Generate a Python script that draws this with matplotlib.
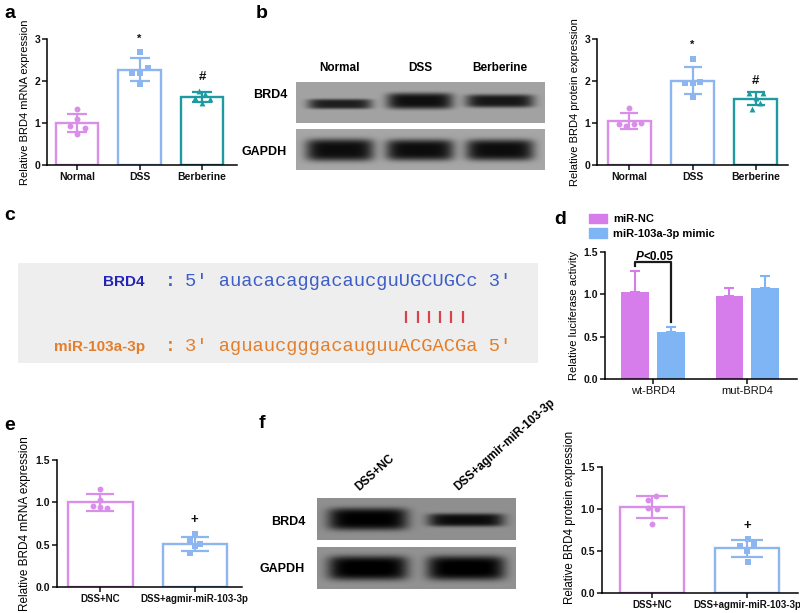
"""Multi-panel BRD4 / miR-103a-3p figure (a-f) redrawn with matplotlib."""

import numpy as np
import matplotlib

matplotlib.use("Agg")
import matplotlib.pyplot as plt
from matplotlib.patches import Patch

plt.rcParams["font.family"] = ["Liberation Sans", "DejaVu Sans"]

W, H = 800, 613

PURPLE = "#d98ee9"
BLUE = "#8db6f0"
TEAL = "#1f9aa0"
D_NC = "#d77ceb"
D_MIMIC = "#80b5f5"

# ---- panel a: BRD4 mRNA
a_groups = ["Normal", "DSS", "Berberine"]
a_mean = [1.00, 2.27, 1.62]
a_sd = [0.22, 0.28, 0.12]
a_points = [
    [1.33, 1.10, 0.93, 0.87, 0.74],
    [2.70, 2.18, 2.18, 2.32, 1.92],
    [1.76, 1.69, 1.60, 1.56, 1.48],
]
a_marks = ["", "*", "#"]
a_mark_y = [0, 3.0, 2.09]

# ---- panel b: BRD4 protein
b_groups = ["Normal", "DSS", "Berberine"]
b_mean = [1.04, 2.01, 1.58]
b_sd = [0.19, 0.32, 0.15]
b_points = [
    [1.35, 0.97, 0.93, 0.97, 0.99],
    [2.52, 1.95, 1.96, 1.98, 1.61],
    [1.72, 1.72, 1.59, 1.47, 1.33],
]
b_marks = ["", "*", "#"]
b_mark_y = [0, 2.86, 2.0]
# relative band signal (0-1) per lane
b_brd4_signal = [0.52, 0.58, 0.55]
b_brd4_thick = [5.0, 8.0, 6.5]
b_gapdh_signal = [0.60, 0.60, 0.60]
b_gapdh_thick = [11.0, 10.5, 10.5]

# ---- panel c: seed pairing
c_names = ["BRD4", "miR-103a-3p"]
c_seqs = ["5' auacacaggacaucguUGCUGCc 3'", "3' aguaucgggacauguuACGACGa 5'"]
c_pair_start, c_pair_len = 19, 6

# ---- panel d: luciferase
d_groups = ["wt-BRD4", "mut-BRD4"]
d_series = ["miR-NC", "miR-103a-3p mimic"]
d_mean = [[1.03, 0.98], [0.55, 1.07]]
d_sd = [[0.24, 0.09], [0.06, 0.15]]

# ---- panel e: BRD4 mRNA after antagomir
e_groups = ["DSS+NC", "DSS+agmir-miR-103-3p"]
e_mean = [1.00, 0.51]
e_sd = [0.10, 0.085]
e_points = [[1.16, 1.03, 0.955, 0.94, 0.935], [0.63, 0.56, 0.51, 0.48, 0.40]]
e_marks = ["", "+"]
e_mark_y = [0, 0.79]

# ---- panel f: BRD4 protein after antagomir
f_groups = ["DSS+NC", "DSS+agmir-miR-103-3p"]
f_mean = [1.02, 0.53]
f_sd = [0.13, 0.10]
f_points = [[1.11, 1.15, 1.01, 1.00, 0.82], [0.64, 0.56, 0.58, 0.505, 0.375]]
f_marks = ["", "+"]
f_mark_y = [0, 0.80]
f_brd4_signal = [0.56, 0.52]
f_brd4_thick = [11.0, 6.5]
f_gapdh_signal = [0.58, 0.58]
f_gapdh_thick = [12.0, 12.0]


def box(x0, y0, x1, y1):
    return [x0 / W, 1 - y1 / H, (x1 - x0) / W, (y1 - y0) / H]


def ftext(fig, x, y, s, **kw):
    fig.text(x / W, 1 - y / H, s, **kw)


def style_axes(ax, ylabel, yticks, fmt, tick_bold=True, xsize=7.5, ysize=8):
    ax.spines[["top", "right"]].set_visible(False)
    ax.spines[["left", "bottom"]].set_linewidth(1.1)
    ax.tick_params(width=1.1, length=3.5, labelsize=7.5, pad=1.5, colors="#111111")
    ax.set_yticks(yticks)
    ax.set_yticklabels([fmt.format(t) for t in yticks], fontweight="bold")
    for lab in ax.get_xticklabels():
        lab.set_fontweight("bold" if tick_bold else "normal")
        lab.set_fontsize(xsize)
    ax.set_ylabel(ylabel, fontsize=ysize, labelpad=3)


def dot_bar(ax, groups, mean, sd, points, jitter, colors, markers, capsize,
            marks, mark_y, width=0.68):
    for i in range(len(mean)):
        ax.bar(i, mean[i], width=width, facecolor="none", edgecolor=colors[i],
               linewidth=1.7, zorder=2)
        ax.scatter(i + np.array(jitter[i]), points[i], marker=markers[i], s=18,
                   color=colors[i], zorder=3, linewidths=0)
        ax.errorbar(i, mean[i], yerr=sd[i], fmt="none", ecolor=colors[i],
                    capsize=capsize, elinewidth=1.6, capthick=1.6, zorder=4)
        if marks[i]:
            ax.text(i, mark_y[i], marks[i], ha="center", va="center",
                    fontsize=9.5 if marks[i] != "*" else 8, fontweight="bold",
                    color="#111111", clip_on=False)
    ax.set_xticks(range(len(groups)))
    ax.set_xticklabels(groups)


def blot(ax, lanes, halfw, yc, signal, thick, bg, w, h):
    xs = np.arange(w)[None, :] + 0.5
    ys = np.arange(h)[:, None] + 0.5
    img = np.full((h, w), bg)
    for c, hw, y0, d, t in zip(lanes, halfw, yc, signal, thick):
        img = img - d * np.exp(-((xs - c) / hw) ** 6) * np.exp(-((ys - y0) / t) ** 4)
    ax.imshow(img, cmap="gray", vmin=0, vmax=1, aspect="auto", interpolation="bilinear")
    ax.set_xticks([])
    ax.set_yticks([])
    for sp in ax.spines.values():
        sp.set_visible(False)


fig = plt.figure(figsize=(8, 6.13), dpi=100)

# panel letters
for x, y, s in [(10, 13, "a"), (262, 13, "b"), (10, 215, "c"), (560, 220, "d"),
                (10, 425, "e"), (262, 423, "f")]:
    ftext(fig, x, y, s, fontsize=14, fontweight="bold", ha="center", va="center")

# ---------------- a
ax = fig.add_axes(box(47, 39, 237, 165))
dot_bar(ax, a_groups, a_mean, a_sd, a_points,
        [[0, 0, -0.12, 0.12, 0], [0, -0.12, 0, 0.13, 0], [-0.05, 0.05, -0.12, 0.12, 0]],
        [PURPLE, BLUE, TEAL], ["o", "s", "^"], 7.5, a_marks, a_mark_y)
ax.set_xlim(-0.48, 2.56)
ax.set_ylim(0, 3)
style_axes(ax, "Relative BRD4 mRNA expression", [0, 1, 2, 3], "{:.0f}")

# ---------------- b blot
lanes_b = [44, 124, 204]
ax = fig.add_axes(box(296, 82, 545, 123))
blot(ax, lanes_b, [32, 33, 34], [22, 19, 19], b_brd4_signal, b_brd4_thick, 0.64, 249, 41)
ax = fig.add_axes(box(296, 129, 545, 170))
blot(ax, lanes_b, [34, 34, 34], [21, 21, 21], b_gapdh_signal, b_gapdh_thick, 0.65, 249, 41)
for x, s in zip([340, 420, 500], b_groups):
    ftext(fig, x, 68, s, fontsize=8.5, fontweight="bold", ha="center", va="center")
ftext(fig, 287, 95, "BRD4", fontsize=9, fontweight="bold", ha="right", va="center")
ftext(fig, 287, 152, "GAPDH", fontsize=9, fontweight="bold", ha="right", va="center")

# ---------------- b chart
ax = fig.add_axes(box(597, 39, 788, 165))
dot_bar(ax, b_groups, b_mean, b_sd, b_points,
        [[0, -0.17, -0.05, 0.07, 0.18], [0, -0.12, 0, 0.12, 0], [-0.1, 0.11, 0, 0.07, -0.06]],
        [PURPLE, BLUE, TEAL], ["o", "s", "^"], 6.5, b_marks, b_mark_y)
ax.set_xlim(-0.51, 2.51)
ax.set_ylim(0, 3)
style_axes(ax, "Relative BRD4 protein expression", [0, 1, 2, 3], "{:.0f}")

# ---------------- c
ax = fig.add_axes(box(18, 263, 538, 363))
ax.set_xlim(18, 538)
ax.set_ylim(363, 263)
ax.set_facecolor("#eeeeee")
ax.set_xticks([])
ax.set_yticks([])
for sp in ax.spines.values():
    sp.set_visible(False)
row_y = [282, 347]
name_col = ["#2424b4", "#e47e2a"]
seq_col = ["#3d5ec6", "#e47e2a"]
for yy, nm, sq, nc, sc in zip(row_y, c_names, c_seqs, name_col, seq_col):
    ax.text(145, yy, nm, ha="right", va="center", fontsize=11, fontweight="bold", color=nc)
    ax.text(170, yy, ":", ha="center", va="center", fontsize=13, fontweight="bold", color=sc,
            family="Liberation Mono")
    ax.text(185, yy, sq, ha="left", va="center", fontsize=13.5, color=sc,
            family="Liberation Mono")
cw = 13.5 * 100 / 72 * 0.6
pair_x = [187 + (c_pair_start + k + 0.5) * cw for k in range(c_pair_len)]
ax.vlines(pair_x, 311, 323, color="#d9414b", lw=1.6)

# ---------------- d
ax = fig.add_axes(box(605, 252, 797, 379))
offs = [-0.19, 0.19]
cols = [D_NC, D_MIMIC]
for s in range(2):
    xs = np.arange(2) + offs[s]
    ax.bar(xs, d_mean[s], width=0.29, color=cols[s], zorder=2, label=d_series[s])
    ax.errorbar(xs, d_mean[s], yerr=[[0, 0], d_sd[s]], fmt="none", ecolor=cols[s],
                capsize=3.5, elinewidth=1.5, capthick=1.5, zorder=1)
ax.plot([-0.19, -0.19, 0.19, 0.19], [1.33, 1.38, 1.38, 0.67], color="#1a1a1a", lw=1.6,
        clip_on=False, zorder=3)
ax.text(-0.1, 1.445, "P", ha="right", va="center", fontsize=8.5, fontweight="bold",
        style="italic")
ax.text(-0.1, 1.445, "<0.05", ha="left", va="center", fontsize=8.5, fontweight="bold")
ax.set_xticks([0, 1])
ax.set_xticklabels(d_groups)
ax.set_xlim(-0.51, 1.53)
ax.set_ylim(0, 1.5)
style_axes(ax, "Relative luciferase activity", [0, 0.5, 1.0, 1.5], "{:.1f}",
           tick_bold=False, xsize=8)
fig.legend(handles=[Patch(color=D_NC, label=d_series[0]), Patch(color=D_MIMIC, label=d_series[1])],
           loc="upper left", bbox_to_anchor=(589 / W, 1 - 214 / H), frameon=False,
           prop={"weight": "bold", "size": 8}, handlelength=1.6, handleheight=0.9,
           handletextpad=0.6, labelspacing=0.35, borderpad=0, borderaxespad=0)

# ---------------- e
ax = fig.add_axes(box(57, 460, 242, 587))
dot_bar(ax, e_groups, e_mean, e_sd, e_points,
        [[0, 0, -0.075, 0, 0.075], [0, -0.05, 0.05, 0, -0.05]],
        [PURPLE, BLUE], ["o", "s"], 10, e_marks, e_mark_y)
ax.set_xlim(-0.46, 1.5)
ax.set_ylim(0, 1.5)
style_axes(ax, "Relative BRD4 mRNA expression", [0, 0.5, 1.0, 1.5], "{:.1f}", xsize=7,
           ysize=8.5)

# ---------------- f blot
lanes_f = [51, 149]
ax = fig.add_axes(box(317, 498, 516, 540))
blot(ax, lanes_f, [40, 38], [21, 22], f_brd4_signal, f_brd4_thick, 0.56, 199, 42)
ax = fig.add_axes(box(317, 547, 516, 589))
blot(ax, lanes_f, [40, 39], [21, 21], f_gapdh_signal, f_gapdh_thick, 0.57, 199, 42)
for x, s in zip([359, 458], f_groups):
    ftext(fig, x, 491, s, fontsize=8.5, fontweight="bold", ha="left", va="baseline",
          rotation=42, rotation_mode="anchor")
ftext(fig, 305, 522, "BRD4", fontsize=9, fontweight="bold", ha="right", va="center")
ftext(fig, 305, 569, "GAPDH", fontsize=9, fontweight="bold", ha="right", va="center")

# ---------------- f chart
ax = fig.add_axes(box(602, 467, 798, 593))
dot_bar(ax, f_groups, f_mean, f_sd, f_points,
        [[-0.04, 0.04, -0.04, 0.05, 0], [0.01, -0.07, 0.08, 0, 0.01]],
        [PURPLE, BLUE], ["o", "s"], 11.5, f_marks, f_mark_y)
ax.set_xlim(-0.53, 1.54)
ax.set_ylim(0, 1.5)
style_axes(ax, "Relative BRD4 protein expression", [0, 0.5, 1.0, 1.5], "{:.1f}", xsize=7,
           ysize=8.3)
ax.yaxis.label.set_y(0.6)

fig.savefig("out.png", dpi=100)
